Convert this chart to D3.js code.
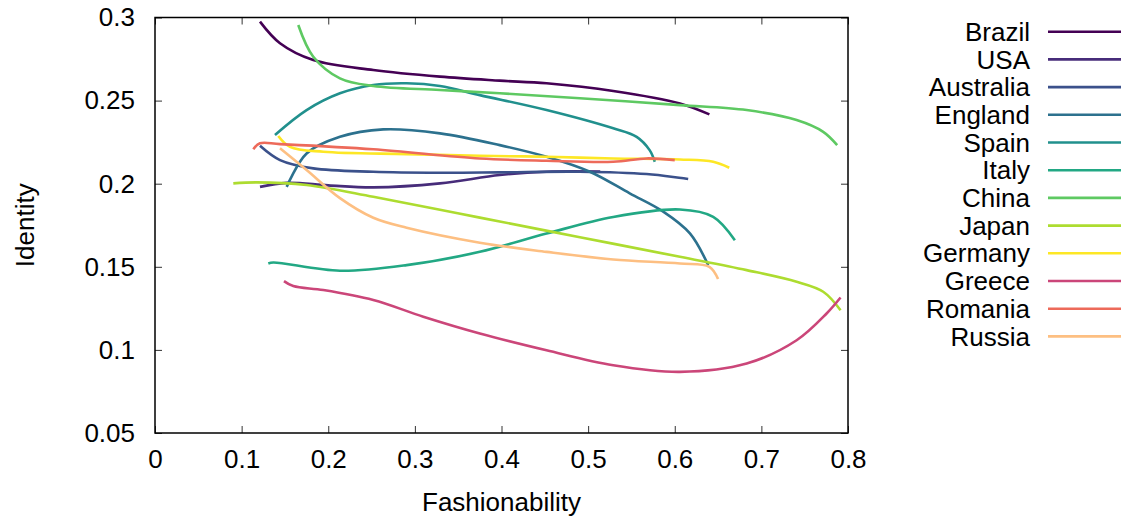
<!DOCTYPE html>
<html>
<head>
<meta charset="utf-8">
<script src="https://cdn.jsdelivr.net/npm/d3@7"></script>
<style>
  html, body { margin: 0; padding: 0; background: #fff; }
  svg { display: block; font-family: "Liberation Sans", Arial, Helvetica, sans-serif; }
</style>
</head>
<body>
<svg id="chart" width="1124" height="521"></svg>
<script>
// ---- Data ----
const countries = ["Brazil","USA","Australia","England","Spain","Italy","China","Japan","Germany","Greece","Romania","Russia"];
const colors = ["#440154","#472c7a","#3b518b","#2c718e","#21908d","#22a884","#5ec962","#addc30","#fde725","#cb4679","#ed6a5a","#fdbf82"];

const brazil = [[0.1212,0.2975],[0.1443,0.2845],[0.1827,0.2744],[0.252,0.2684],[0.329,0.2644],[0.398,0.2620],[0.452,0.2604],[0.529,0.2558],[0.606,0.2483],[0.640,0.2417]];
const usa = [[0.1212,0.1981],[0.152,0.2005],[0.200,0.1990],[0.252,0.1978],[0.329,0.2002],[0.398,0.2052],[0.452,0.2072],[0.514,0.2073]];
const australia = [[0.1212,0.2228],[0.1443,0.2142],[0.1827,0.2092],[0.252,0.2072],[0.329,0.2066],[0.398,0.2068],[0.4905,0.2072],[0.5675,0.2058],[0.6155,0.2028]];
const england = [[0.152,0.1981],[0.175,0.2182],[0.2135,0.2282],[0.2635,0.2327],[0.329,0.2303],[0.398,0.2232],[0.452,0.2162],[0.502,0.2072],[0.548,0.1942],[0.5867,0.1832],[0.6175,0.1701],[0.6386,0.1510]];
const spain = [[0.1385,0.2293],[0.175,0.2443],[0.2135,0.2544],[0.252,0.2594],[0.2905,0.2604],[0.329,0.2588],[0.375,0.2533],[0.452,0.2443],[0.529,0.2333],[0.556,0.2282],[0.571,0.2202],[0.577,0.2132]];
const italy = [[0.1308,0.1520],[0.1366,0.1526],[0.2135,0.1476],[0.2905,0.1510],[0.375,0.1590],[0.452,0.1700],[0.529,0.1800],[0.606,0.1845],[0.6444,0.1801],[0.6694,0.1660]];
const china = [[0.1654,0.2955],[0.1827,0.2764],[0.2135,0.2634],[0.252,0.2588],[0.329,0.2564],[0.398,0.2544],[0.4905,0.2514],[0.606,0.2473],[0.683,0.2443],[0.7407,0.2383],[0.7714,0.2312],[0.7875,0.2232]];
const japan = [[0.0904,0.2002],[0.1174,0.2008],[0.175,0.1992],[0.252,0.1921],[0.329,0.1843],[0.375,0.1796],[0.4905,0.1678],[0.606,0.1560],[0.683,0.1480],[0.7407,0.1410],[0.7714,0.1350],[0.7914,0.1239]];
const germany = [[0.1423,0.2287],[0.1558,0.2222],[0.1943,0.2192],[0.2905,0.2178],[0.375,0.2168],[0.452,0.2162],[0.529,0.2152],[0.606,0.2146],[0.6444,0.2132],[0.6629,0.2096]];
const greece = [[0.1489,0.1414],[0.1596,0.1384],[0.1943,0.1360],[0.252,0.1300],[0.3097,0.1200],[0.375,0.1099],[0.452,0.0998],[0.529,0.0908],[0.606,0.0868],[0.683,0.0918],[0.7407,0.1058],[0.7753,0.1219],[0.7914,0.1315]];
const romania = [[0.1135,0.2207],[0.1212,0.2243],[0.1443,0.2238],[0.252,0.2207],[0.375,0.2152],[0.452,0.2138],[0.529,0.2132],[0.5675,0.2152],[0.600,0.2142]];
const russia = [[0.1443,0.2213],[0.175,0.2082],[0.2135,0.1913],[0.252,0.1795],[0.2905,0.1735],[0.375,0.1645],[0.452,0.1590],[0.529,0.1544],[0.606,0.1520],[0.640,0.1500],[0.650,0.1426]];

const seriesValues = [brazil, usa, australia, england, spain, italy, china, japan, germany, greece, romania, russia];

const xTicks = [0, 0.1, 0.2, 0.3, 0.4, 0.5, 0.6, 0.7, 0.8];
const xTickLabels = ["0","0.1","0.2","0.3","0.4","0.5","0.6","0.7","0.8"];
const yTicks = [0.05, 0.1, 0.15, 0.2, 0.25, 0.3];
const yTickLabels = ["0.05","0.1","0.15","0.2","0.25","0.3"];
const xTitle = "Fashionability";
const yTitle = "Identity";

// ---- Layout ----
const svg = d3.select("#chart");
const L = 155, R = 848, T = 17.5, B = 433;
const fontSize = 26;

const x = d3.scaleLinear().domain([0, 0.8]).range([L, R]);
const y = d3.scaleLinear().domain([0.05, 0.3]).range([B, T]);

const tickLen = 7;

// Axes
const gx = svg.append("g").attr("transform", `translate(0,${B})`)
  .call(d3.axisBottom(x).tickValues(xTicks).tickFormat((d,i)=>xTickLabels[i]).tickSizeInner(-tickLen).tickSizeOuter(0).tickPadding(17));
const gxt = svg.append("g").attr("transform", `translate(0,${T})`)
  .call(d3.axisTop(x).tickValues(xTicks).tickFormat("").tickSizeInner(-tickLen).tickSizeOuter(0));
const gy = svg.append("g").attr("transform", `translate(${L},0)`)
  .call(d3.axisLeft(y).tickValues(yTicks).tickFormat((d,i)=>yTickLabels[i]).tickSizeInner(-tickLen).tickSizeOuter(0).tickPadding(20));
const gyr = svg.append("g").attr("transform", `translate(${R},0)`)
  .call(d3.axisRight(y).tickValues(yTicks).tickFormat("").tickSizeInner(-tickLen).tickSizeOuter(0));

[gx, gxt, gy, gyr].forEach(g => {
  g.select(".domain").remove();
  g.selectAll(".tick line").attr("stroke", "#333").attr("stroke-width", 1);
  g.selectAll(".tick text").attr("font-size", fontSize).attr("fill", "#000")
    .attr("font-family", "'Liberation Sans', Arial, sans-serif");
});

// Border
svg.append("rect").attr("x", L).attr("y", T).attr("width", R - L).attr("height", B - T)
  .attr("fill", "none").attr("stroke", "#000").attr("stroke-width", 1.5);

// Axis titles
svg.append("text").attr("x", (L + R) / 2).attr("y", 511).attr("text-anchor", "middle")
  .attr("font-size", fontSize).text(xTitle);
svg.append("text").attr("transform", `translate(34,${(T + B) / 2}) rotate(-90)`)
  .attr("text-anchor", "middle").attr("font-size", fontSize).text(yTitle);

// Lines
const line = d3.line().x(d => x(d[0])).y(d => y(d[1])).curve(d3.curveCatmullRom.alpha(0.5));
const plot = svg.append("g");
seriesValues.forEach((s, i) => {
  plot.append("path").attr("d", line(s)).attr("fill", "none")
    .attr("stroke", colors[i]).attr("stroke-width", 2.6).attr("stroke-linecap", "butt");
});

// Legend
const lg = svg.append("g");
countries.forEach((c, i) => {
  const ly = 31.7 + i * 27.7;
  lg.append("text").attr("x", 1030).attr("y", ly).attr("dy", "0.35em")
    .attr("text-anchor", "end").attr("font-size", fontSize).text(c);
  lg.append("line").attr("x1", 1048).attr("x2", 1121).attr("y1", ly).attr("y2", ly)
    .attr("stroke", colors[i]).attr("stroke-width", 2.6);
});
</script>
</body>
</html>
